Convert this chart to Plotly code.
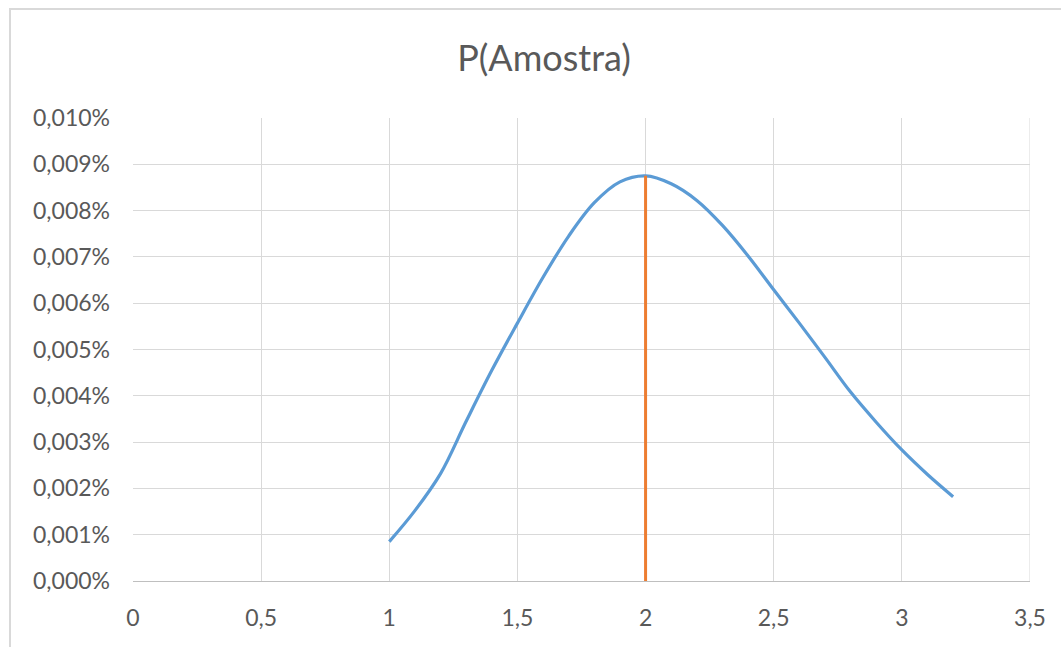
import plotly.graph_objects as go

# Data
x_values = [1.0, 1.1, 1.2, 1.3, 1.4, 1.5, 1.6, 1.7, 1.8, 1.9, 2.0,
            2.1, 2.2, 2.3, 2.4, 2.5, 2.6, 2.7, 2.8, 2.9, 3.0, 3.1, 3.2]
p_values_pct = [0.00085, 0.00152, 0.00232, 0.00345, 0.00455, 0.00557, 0.00656,
                0.00745, 0.00817, 0.00862, 0.00875, 0.00858, 0.00822, 0.00768,
                0.00702, 0.00629, 0.00557, 0.00483, 0.00408, 0.00343, 0.00283,
                0.00230, 0.00182]
p_values = [v / 100 for v in p_values_pct]

mean_x = [2.0, 2.0]
mean_y = [0.0, 0.00875 / 100]

x_ticks = [0, 0.5, 1, 1.5, 2, 2.5, 3, 3.5]
y_ticks = [i * 0.00001 for i in range(0, 11)]

title_text = "P(Amostra)"

fig = go.Figure()
fig.add_trace(go.Scatter(
    x=x_values, y=p_values, mode="lines",
    line=dict(color="#5B9BD5", width=3.2, shape="spline", smoothing=1.0),
    showlegend=False, hoverinfo="x+y"))
fig.add_trace(go.Scatter(
    x=mean_x, y=mean_y, mode="lines",
    line=dict(color="#ED7D31", width=3),
    showlegend=False))

font_family = "Lato, 'Open Sans', sans-serif"
fig.update_layout(
    width=1061, height=647,
    margin=dict(l=133, r=31, t=118, b=66),
    paper_bgcolor="white", plot_bgcolor="white",
    separators=",.",
    title=dict(text=title_text, x=544 / 1061, xref="container", xanchor="center",
               y=1 - 58 / 647, yref="container", yanchor="middle",
               font=dict(family=font_family, size=36, color="#595959")),
    xaxis=dict(range=[0, 3.5], tickvals=x_ticks,
               showgrid=True, gridcolor="#d9d9d9", gridwidth=1,
               zeroline=False, showline=True, linecolor="#bfbfbf", linewidth=1,
               mirror=False, ticks="", ticklabelstandoff=16,
               tickfont=dict(family=font_family, size=23, color="#595959")),
    yaxis=dict(range=[0, 0.0001], tickvals=y_ticks,
               tickformat=".3%", showgrid=True, gridcolor="#d9d9d9", gridwidth=1,
               zeroline=False, showline=False, ticks="", ticklabelstandoff=22,
               tickfont=dict(family=font_family, size=23, color="#595959")),
)

# right edge gridline at x=3.5 and outer chart border
fig.add_shape(type="line", xref="x", yref="paper", x0=3.5, x1=3.5, y0=0, y1=1,
              line=dict(color="#d9d9d9", width=1), layer="below")
fig.add_shape(type="rect", xref="paper", yref="paper",
              x0=(10 - 133) / 897, x1=(1070 - 133) / 897,
              y0=(581 - 660) / 463, y1=(581 - 9) / 463,
              line=dict(color="#d9d9d9", width=2), fillcolor="rgba(0,0,0,0)",
              layer="below")

fig.write_html("out.html")
